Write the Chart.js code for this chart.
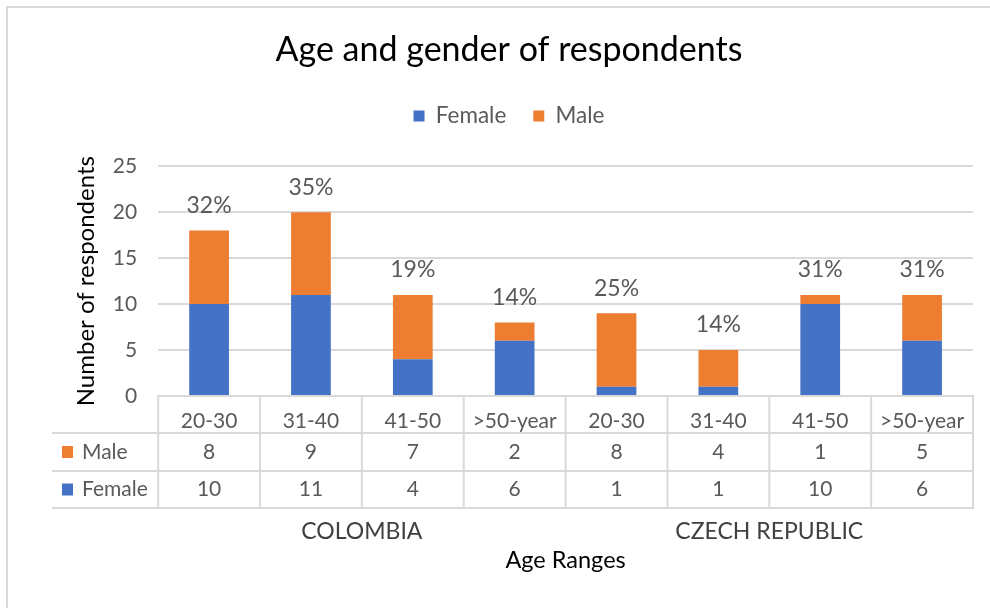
<!DOCTYPE html>
<html>
<head>
<meta charset="utf-8">
<script src="https://cdn.jsdelivr.net/npm/chart.js@4.4.0/dist/chart.umd.min.js"></script>
<style>
html,body{margin:0;padding:0;background:#fff;}
#wrap{width:990px;height:608px;position:relative;overflow:hidden;}
</style>
</head>
<body>
<div id="wrap"><canvas id="c" width="990" height="608"></canvas></div>
<script>
// ---- data ----
const categories = ['20-30', '31-40', '41-50', '>50-year', '20-30', '31-40', '41-50', '>50-year'];
const countries = ['COLOMBIA', 'CZECH REPUBLIC'];
const countryOfCategory = [0, 0, 0, 0, 1, 1, 1, 1];
const female = [10, 11, 4, 6, 1, 1, 10, 6];
const male = [8, 9, 7, 2, 8, 4, 1, 5];
const yMin = 0, yMax = 25, yStep = 5;

const FONT = 'Lato';
const BLUE = '#4472C4', ORANGE = '#ED7D31', GRID = '#d9d9d9', GRAY = '#595959';

function totalsOf(i) { return female[i] + male[i]; }
function countryTotal(g) {
  let s = 0;
  for (let i = 0; i < categories.length; i++) if (countryOfCategory[i] === g) s += totalsOf(i);
  return s;
}

const borderPlugin = {
  id: 'outerBorder',
  beforeDraw(chart) {
    const ctx = chart.ctx;
    ctx.save();
    ctx.fillStyle = '#fff';
    ctx.fillRect(0, 0, chart.width, chart.height);
    ctx.strokeStyle = GRID;
    ctx.lineWidth = 2;
    ctx.strokeRect(7, 7, chart.width + 20, chart.height + 20);
    ctx.restore();
  }
};

const percentPlugin = {
  id: 'percentLabels',
  afterDatasetsDraw(chart) {
    const {ctx, scales: {x, y}} = chart;
    ctx.save();
    ctx.font = '23px ' + FONT;
    ctx.fillStyle = GRAY;
    ctx.textAlign = 'center';
    ctx.textBaseline = 'middle';
    for (let i = 0; i < categories.length; i++) {
      const t = totalsOf(i);
      const pct = Math.round(t / countryTotal(countryOfCategory[i]) * 100) + '%';
      ctx.fillText(pct, x.getPixelForValue(i), y.getPixelForValue(t) - 25);
    }
    ctx.restore();
  }
};

const tablePlugin = {
  id: 'dataTable',
  afterDraw(chart) {
    const {ctx, chartArea: ca, scales: {x}} = chart;
    const n = categories.length;
    const colW = ca.width / n;
    const r0 = ca.bottom;
    const rows = [r0, r0 + 37, r0 + 75, r0 + 112];
    const keyLeft = 52;
    ctx.save();
    ctx.strokeStyle = GRID;
    ctx.lineWidth = 2;
    ctx.beginPath();
    ctx.moveTo(ca.left, rows[0]); ctx.lineTo(ca.right + 1, rows[0]);
    for (let r = 1; r < rows.length; r++) { ctx.moveTo(keyLeft, rows[r]); ctx.lineTo(ca.right + 1, rows[r]); }
    for (let i = 0; i <= n; i++) {
      const xx = ca.left + i * colW;
      ctx.moveTo(xx, rows[0] - 1); ctx.lineTo(xx, rows[3] + 1);
    }
    ctx.stroke();

    // series rows: reversed dataset order (Male first, then Female)
    const ds = chart.data.datasets.slice().reverse();
    ctx.font = '21px ' + FONT;
    ctx.textBaseline = 'middle';
    ds.forEach((d, r) => {
      const cy = (rows[r + 1] + rows[r + 2]) / 2;
      ctx.fillStyle = d.backgroundColor;
      ctx.fillRect(62, cy - 6, 11, 12);
      ctx.fillStyle = GRAY;
      ctx.textAlign = 'left';
      ctx.fillText(d.label, 82, cy);
      ctx.textAlign = 'center';
      d.data.forEach((v, i) => ctx.fillText(String(v), x.getPixelForValue(i), cy));
    });

    // country group labels
    ctx.font = '23px ' + FONT;
    ctx.fillStyle = '#404040';
    ctx.textAlign = 'center';
    countries.forEach((name, g) => {
      const idx = [];
      countryOfCategory.forEach((c, i) => { if (c === g) idx.push(i); });
      const cx = (x.getPixelForValue(idx[0]) + x.getPixelForValue(idx[idx.length - 1])) / 2;
      ctx.fillText(name, cx, rows[3] + 24);
    });
    ctx.restore();
  }
};

Chart.defaults.font.family = FONT;

new Chart(document.getElementById('c'), {
  type: 'bar',
  data: {
    labels: categories,
    datasets: [
      { label: 'Female', data: female, backgroundColor: BLUE, xAxisID: 'x', yAxisID: 'y' },
      { label: 'Male', data: male, backgroundColor: ORANGE, xAxisID: 'x', yAxisID: 'y' }
    ]
  },
  options: {
    responsive: false,
    animation: false,
    devicePixelRatio: 1,
    layout: { padding: { left: 45, right: 17, top: 0, bottom: 0 } },
    datasets: { bar: { barPercentage: 0.39, categoryPercentage: 1 } },
    plugins: {
      title: {
        display: true,
        text: 'Age and gender of respondents',
        color: '#000',
        font: { size: 34, weight: 'normal' },
        padding: { top: 30, bottom: 7 }
      },
      legend: {
        display: true,
        position: 'top',
        labels: {
          boxWidth: 11, boxHeight: 11, padding: 27,
          color: GRAY, font: { size: 22.5 }
        }
      },
      tooltip: { enabled: false }
    },
    scales: {
      x: {
        type: 'category',
        position: 'bottom',
        stacked: true,
        grid: { display: false },
        border: { display: false },
        ticks: { color: GRAY, font: { size: 21 }, padding: 5, autoSkip: false, maxRotation: 0, minRotation: 0 },
        title: { display: true, text: 'Age Ranges', color: '#000', font: { size: 23.5 }, padding: { top: 0, bottom: 33 } },
        afterFit(s) { s.height = 212; }
      },
      xTop: {
        type: 'category',
        position: 'top',
        grid: { display: false },
        border: { display: false },
        ticks: { display: false },
        afterFit(s) { s.height = 29; }
      },
      y: {
        stacked: true,
        min: yMin, max: yMax,
        ticks: { stepSize: yStep, color: GRAY, font: { size: 21 }, padding: 21 },
        grid: { color: GRID, lineWidth: 2, drawTicks: false },
        border: { display: false },
        title: { display: true, text: 'Number of respondents', color: '#000', font: { size: 24 }, padding: { top: 27, bottom: -9 } }
      }
    }
  },
  plugins: [borderPlugin, percentPlugin, tablePlugin]
});
</script>
</body>
</html>
